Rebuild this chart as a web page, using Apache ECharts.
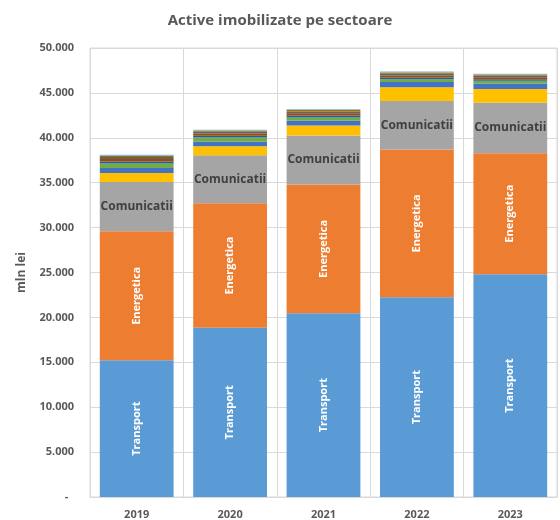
<!doctype html>
<html>
<head>
    <meta http-equiv="Content-Type" content="text/html; charset=utf-8">
    <title>Active imobilizate pe sectoare</title>
    <script src="https://cdn.jsdelivr.net/npm/echarts@6/dist/echarts.min.js"></script>
    <style>
        html, body { margin: 0; padding: 0; background: #fff; }
        #chart { width: 560px; height: 520px; }
    </style>
</head>
<body>
<div id="chart"></div>
<script type="text/javascript">
    // ani
    var years = ['2019', '2020', '2021', '2022', '2023'];
    // valori mln lei
    var transport   = [15220, 18850, 20450, 22240, 24800];
    var energetica  = [14370, 13850, 14360, 16460, 13490];
    var comunicatii = [5480, 5370, 5450, 5410, 5600];
    var sector4  = [1000, 1000, 1110, 1520, 1550];
    var sector5  = [560, 490, 520, 590, 600];
    var sector6  = [510, 480, 370, 300, 300];
    var sector7  = [220, 200, 220, 200, 190];
    var sector8  = [270, 230, 250, 230, 220];
    var sector9  = [220, 190, 210, 190, 180];
    var sector10 = [150, 130, 150, 130, 120];
    var sector11 = [110, 100, 100, 100, 90];
    var yTicks = [0, 5000, 10000, 15000, 20000, 25000, 30000, 35000, 40000, 45000, 50000];

    var font = 'Open Sans';
    var grey = '#595959';

    function fmt(v) {
        if (v === 0) return '-  ';
        return String(v).replace(/\B(?=(\d{3})+(?!\d))/g, '.');
    }

    function bar(name, data, color, label) {
        var s = {
            name: name,
            type: 'bar',
            stack: 'total',
            data: data,
            barCategoryGap: '21%',
            itemStyle: { color: color },
            label: { show: false }
        };
        if (label) s.label = label;
        return s;
    }

    var vLabel = {
        show: true,
        position: 'inside',
        rotate: 90,
        color: '#ffffff',
        fontFamily: font,
        fontWeight: 'bold',
        fontSize: 11,
        formatter: '{a}'
    };

    var myChart = echarts.init(document.getElementById('chart'), null, { renderer: 'canvas' });
    var option = {
        animation: false,
        backgroundColor: '#ffffff',
        title: {
            text: 'Active imobilizate pe sectoare',
            left: 'center',
            top: 8,
            textStyle: { color: grey, fontFamily: font, fontWeight: 'bold', fontSize: 15 }
        },
        grid: { left: 90, right: 3, top: 48, bottom: 23, show: true, borderColor: '#d9d9d9', borderWidth: 1 },
        xAxis: {
            type: 'category',
            data: years,
            axisLine: { lineStyle: { color: '#d9d9d9' } },
            axisTick: { show: false },
            splitLine: { show: true, lineStyle: { color: '#d9d9d9' } },
            axisLabel: { color: grey, fontFamily: font, fontWeight: 'bold', fontSize: 11, margin: 12 }
        },
        yAxis: {
            type: 'value',
            min: yTicks[0],
            max: yTicks[yTicks.length - 1],
            interval: yTicks[1] - yTicks[0],
            name: 'mln lei',
            nameLocation: 'middle',
            nameGap: 62,
            nameTextStyle: { color: grey, fontFamily: font, fontWeight: 'bold', fontSize: 12 },
            axisLine: { show: false },
            axisTick: { show: false },
            splitLine: { lineStyle: { color: '#d9d9d9' } },
            axisLabel: { color: grey, fontFamily: font, fontWeight: 'bold', fontSize: 11, margin: 16, formatter: fmt }
        },
        series: [
            bar('Transport', transport, '#5b9bd5', vLabel),
            bar('Energetica', energetica, '#ed7d31', vLabel),
            bar('Comunicatii', comunicatii, '#a5a5a5', {
                show: true, position: 'inside', color: '#404040',
                fontFamily: font, fontWeight: 'bold', fontSize: 12, formatter: '{a}'
            }),
            bar('Sector 4', sector4, '#ffc000'),
            bar('Sector 5', sector5, '#4472c4'),
            bar('Sector 6', sector6, '#70ad47'),
            bar('Sector 7', sector7, '#255e91'),
            bar('Sector 8', sector8, '#9e480e'),
            bar('Sector 9', sector9, '#636363'),
            bar('Sector 10', sector10, '#997300'),
            bar('Sector 11', sector11, '#7caed8')
        ]
    };
    myChart.setOption(option);
</script>
</body>
</html>
